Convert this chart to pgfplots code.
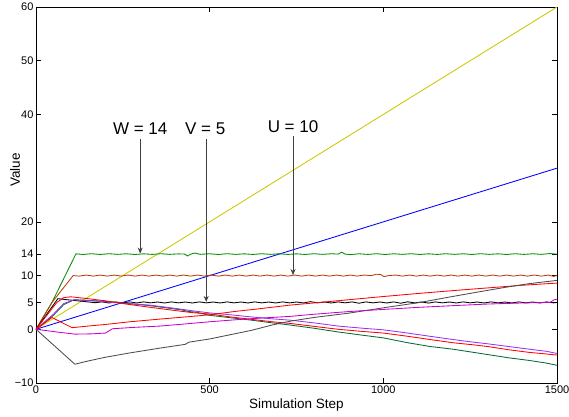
\documentclass[border=0pt]{standalone}
\usepackage{pgfplots}
\pgfplotsset{compat=1.18}
\usepackage{fontspec}
\setmainfont{Liberation Sans}
\usetikzlibrary{arrows.meta}
\definecolor{cyel}{rgb}{0.80,0.78,0.0}
\definecolor{cgreen}{rgb}{0.0,0.55,0.0}
\definecolor{cbrown}{rgb}{0.70,0.25,0.05}
\definecolor{cdkgreen}{rgb}{0.0,0.42,0.2}
\definecolor{cpurple}{rgb}{0.6,0.2,0.95}
\definecolor{cmag}{rgb}{0.8,0.0,0.8}
\definecolor{cgray}{rgb}{0.3,0.3,0.3}
\definecolor{carrow}{rgb}{0.25,0.25,0.25}
\begin{document}
\begin{tikzpicture}
\useasboundingbox (-36pt,-33pt) rectangle (533pt,383pt);
\begin{axis}[
  scale only axis, width=521pt, height=376pt,
  at={(0,0)}, anchor=south west,
  xmin=0, xmax=1500, ymin=-10, ymax=60,
  xtick={0,500,1000,1500}, xticklabels={0,500,1000,1500},
  ytick={-10,0,5,10,14,20,40,50,60},
  yticklabels={−10,0,5,10,14,20,40,50,60},
  tick align=inside, major tick length=5pt,
  tick style={black, line width=0.5pt},
  axis line style={black, line width=0.8pt},
  tick label style={font=\fontsize{11}{12}\selectfont},
  xticklabel style={yshift=1pt},
  yticklabel style={xshift=1pt},
  xlabel={Simulation Step}, ylabel={Value},
  label style={font=\fontsize{13.5}{15}\selectfont},
  xlabel style={at={(axis description cs:0.5,-0.059)}, anchor=center},
  ylabel style={at={(axis description cs:-0.040,0.566)}, anchor=center, rotate=0},
  every axis plot/.append style={line width=0.85pt, mark=none},
  clip=true,
]
% yellow
\addplot[cyel] coordinates {(0,0) (1500,60)};
% blue
\addplot[blue] coordinates {(0,0) (1500,30)};
% green W=14
\addplot[cgreen] coordinates {(0,0) (46,5) (115,14.05) (135,13.93) (160,14.07) (185,13.93) (210,14.07) (235,13.95) (260,14.06) (285,13.93) (310,14.05) (335,13.94) (360,14.07) (385,13.95) (410,14.04) (428,14.0) (436,13.65) (446,14.0) (458,14.2) (472,13.95) (500,14.06) (525,13.93) (550,14.07) (575,13.95) (600,14.05) (625,13.93) (650,14.07) (675,13.95) (700,14.06) (725,13.94) (750,14.05) (775,13.93) (800,14.07) (825,13.95) (850,14.06) (870,14.0) (880,14.35) (890,14.0) (905,13.9) (930,14.06) (955,13.94) (980,14.07) (1005,13.93) (1030,14.06) (1055,13.95) (1080,14.07) (1105,13.93) (1130,14.05) (1155,13.94) (1180,14.07) (1205,13.95) (1230,14.06) (1255,13.93) (1280,14.07) (1305,13.95) (1330,14.05) (1355,13.93) (1380,14.07) (1405,13.94) (1430,14.06) (1455,13.95) (1480,14.1) (1500,13.98)};
% brown U=10
\addplot[cbrown] coordinates {(0,0) (46,5) (107,10.0) (125,9.9) (145,10.1) (165,9.9) (185,10.1) (205,9.9) (225,10.1) (245,9.9) (265,10.1) (285,9.9) (305,10.1) (325,9.9) (345,10.1) (365,9.9) (385,10.1) (405,9.9) (425,10.1) (445,9.9) (465,10.1) (485,9.9) (505,10.1) (525,9.9) (545,10.1) (565,9.9) (585,10.1) (605,9.9) (625,10.1) (645,9.9) (665,10.1) (685,9.9) (705,10.1) (725,9.9) (745,10.1) (765,9.9) (785,10.1) (805,9.9) (825,10.1) (845,9.9) (865,10.1) (885,9.9) (905,10.1) (925,9.9) (945,10.1) (965,9.98) (980,10.25) (992,10.2) (1002,9.8) (1015,10.0) (1035,10.1) (1055,9.9) (1075,10.1) (1095,9.9) (1115,10.1) (1135,9.9) (1155,10.1) (1175,9.9) (1195,10.1) (1215,9.9) (1235,10.1) (1255,9.9) (1275,10.1) (1295,9.9) (1315,10.1) (1335,9.9) (1355,10.1) (1375,9.9) (1395,10.1) (1415,9.9) (1435,10.1) (1455,9.9) (1475,10.1) (1490,9.85) (1500,10.0)};
% black V=5
\addplot[black] coordinates {(0,0) (63,5.7) (90,5.5) (120,5.3) (150,5.1) (170,4.95) (190,5.1) (210,4.9) (230,5.08) (250,4.92) (270,5.1) (290,4.9) (310,5.1) (330,4.92) (350,5.08) (370,4.9) (390,5.1) (410,4.92) (430,5.08) (450,4.9) (470,5.1) (490,4.92) (510,5.08) (530,4.9) (550,5.1) (570,4.92) (590,5.08) (610,4.9) (630,5.1) (650,4.92) (670,5.08) (690,4.9) (710,5.1) (730,4.92) (750,5.08) (770,4.9) (790,5.15) (810,4.92) (830,5.08) (850,4.9) (870,5.1) (890,4.92) (910,5.1) (930,4.85) (950,5.1) (970,4.92) (990,5.08) (1010,4.9) (1030,5.1) (1050,4.85) (1070,5.12) (1090,4.92) (1110,5.08) (1130,4.88) (1150,5.1) (1170,4.92) (1190,5.08) (1210,4.9) (1230,5.1) (1250,4.92) (1270,5.08) (1290,4.9) (1310,5.1) (1330,4.92) (1350,5.08) (1370,4.9) (1390,5.1) (1410,4.92) (1430,5.08) (1450,4.9) (1470,5.1) (1490,4.92) (1500,5.0)};
% dark green descending
\addplot[cdkgreen] coordinates {(0,0) (50,2.6) (80,4.6) (110,5.5) (160,5.35) (200,5.2) (260,4.85) (328,4.4) (380,3.95) (420,3.6) (440,3.3) (460,3.2) (500,2.6) (560,2.15) (620,1.7) (680,1.2) (731,0.8) (800,0.2) (870,-0.5) (940,-1.1) (1000,-1.6) (1070,-2.5) (1134,-3.2) (1200,-3.7) (1260,-4.3) (1300,-4.7) (1360,-5.3) (1420,-5.8) (1470,-6.3) (1500,-6.7)};
% purple descending
\addplot[cpurple] coordinates {(0,0) (50,2.8) (80,4.8) (110,5.5) (160,5.3) (200,5.1) (260,4.8) (328,4.5) (400,3.9) (450,3.45) (500,3.05) (560,2.7) (620,2.3) (680,1.95) (731,1.7) (800,1.2) (870,0.6) (940,0.2) (1000,-0.1) (1070,-0.7) (1134,-1.3) (1200,-1.9) (1260,-2.4) (1300,-2.7) (1360,-3.2) (1420,-3.7) (1470,-4.1) (1500,-4.5)};
% red descending
\addplot[red] coordinates {(0,0) (30,2.5) (60,5.0) (80,5.9) (100,6.05) (150,5.7) (200,5.3) (260,4.7) (328,4.1) (400,3.5) (450,3.1) (500,2.85) (560,2.3) (620,1.85) (680,1.4) (731,1.1) (800,0.55) (870,0.0) (940,-0.4) (1000,-0.7) (1070,-1.3) (1134,-1.9) (1200,-2.5) (1260,-2.9) (1300,-3.2) (1360,-3.8) (1420,-4.3) (1470,-4.6) (1500,-4.8)};
% red rising
\addplot[red] coordinates {(0,0) (46,2.2) (70,1.4) (104,0.3) (150,0.6) (200,0.9) (270,1.4) (357,1.9) (430,2.3) (500,2.7) (570,3.3) (640,3.8) (731,4.5) (800,4.9) (900,5.5) (1000,6.1) (1106,6.7) (1200,7.2) (1300,7.7) (1400,8.2) (1500,8.6)};
% gray rising
\addplot[cgray] coordinates {(0,0) (112,-6.5) (150,-5.9) (200,-5.2) (270,-4.4) (357,-3.5) (430,-2.8) (440,-2.4) (500,-1.8) (560,-1.0) (620,-0.2) (680,0.8) (731,1.5) (800,2.2) (900,3.0) (1000,4.0) (1106,5.0) (1190,6.0) (1278,7.0) (1350,7.8) (1420,8.5) (1500,9.1)};
% magenta rising
\addplot[cmag] coordinates {(0,0) (60,-0.5) (112,-0.9) (160,-0.85) (200,-0.7) (220,0.1) (280,0.35) (357,0.6) (430,1.0) (500,1.4) (580,1.8) (650,2.1) (731,2.4) (800,2.8) (900,3.3) (1000,3.7) (1106,4.1) (1200,4.4) (1300,4.7) (1400,4.9) (1480,5.0) (1492,5.5) (1500,5.6)};
% annotations
\node[font=\fontsize{17}{19}\selectfont] at (axis cs:300,37.4) {W = 14};
\node[font=\fontsize{17}{19}\selectfont] at (axis cs:487,37.4) {V = 5};
\node[font=\fontsize{17}{19}\selectfont] at (axis cs:740,37.8) {U = 10};
\draw[carrow, line width=0.8pt, -{Stealth[length=6pt,width=5pt]}] (axis cs:300,35.4) -- (axis cs:300,14.1);
\draw[carrow, line width=0.8pt, -{Stealth[length=6pt,width=5pt]}] (axis cs:490,35.4) -- (axis cs:490,5.1);
\draw[carrow, line width=0.8pt, -{Stealth[length=6pt,width=5pt]}] (axis cs:740,35.9) -- (axis cs:740,10.1);
\end{axis}
\end{tikzpicture}
\end{document}
